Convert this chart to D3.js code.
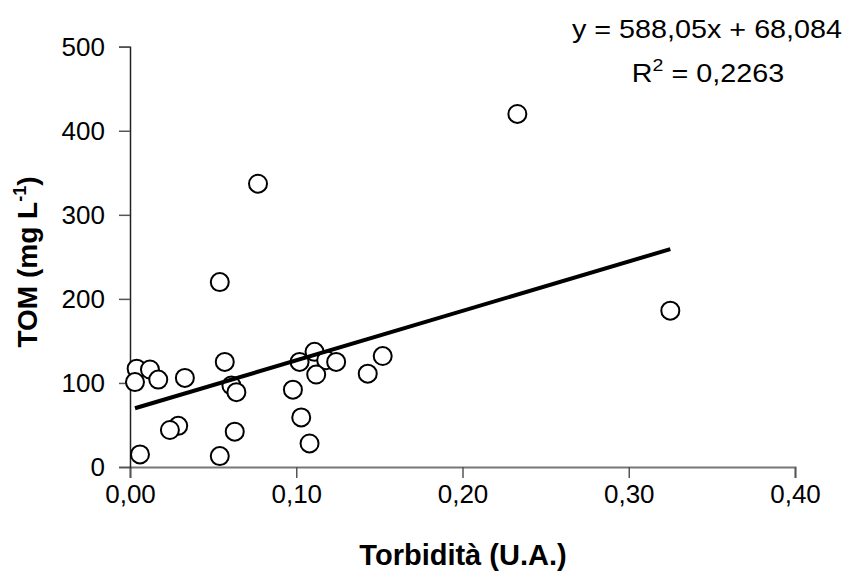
<!DOCTYPE html>
<html>
<head>
<meta charset="utf-8">
<script src="https://cdn.jsdelivr.net/npm/d3@7"></script>
<style>
  body { margin: 0; background: #fff; }
  svg text { font-family: "Liberation Sans", Arial, sans-serif; fill: #000; }
</style>
</head>
<body>
<svg width="846" height="573"></svg>
<script>
// torbidità (U.A.) vs TOM (mg/L)
const turbidity = [0.004, 0.012, 0.003, 0.017, 0.033, 0.054, 0.057, 0.061, 0.064,
    0.029, 0.024, 0.063, 0.006, 0.054, 0.098, 0.102, 0.111, 0.118, 0.124,
    0.112, 0.103, 0.108, 0.143, 0.152, 0.233, 0.325, 0.077]
const tom = [117, 116, 101, 104, 106, 220, 125, 97, 89,
    49, 44, 42, 15, 13, 92, 125, 137, 127, 125,
    110, 59, 28, 111, 132, 420, 186, 337]

const xTicks = [0, 0.1, 0.2, 0.3, 0.4]
const yTicks = [0, 100, 200, 300, 400, 500]
const slope = 588.05
const intercept = 68.084

const it = d3.formatLocale({decimal: ",", thousands: ".", grouping: [3], currency: ["", "€"]})

const svg = d3.select("svg")
const x = d3.scaleLinear().domain([0, 0.4]).range([130, 795])
const y = d3.scaleLinear().domain([0, 500]).range([467, 46.7])

const points = turbidity.map((t, i) => ({x: t, y: tom[i]}))

// axes
const xAxis = svg.append("g")
    .attr("transform", `translate(0, ${y(0)})`)
    .call(d3.axisBottom(x).tickValues(xTicks).tickFormat(it.format(".2f")).tickSizeOuter(0).tickSize(11).tickPadding(7))
xAxis.select(".domain").attr("stroke", "#777").attr("stroke-width", 2)
xAxis.selectAll(".tick line").attr("stroke", "#555").attr("stroke-width", 1.5)
xAxis.selectAll("text").style("font-size", "26px")

const yAxis = svg.append("g")
    .attr("transform", `translate(${x(0)}, 0)`)
    .call(d3.axisLeft(y).tickValues(yTicks).tickFormat(d3.format("d")).tickSizeOuter(0).tickSize(11).tickPadding(14))
yAxis.select(".domain").attr("stroke", "#222").attr("stroke-width", 1.5)
yAxis.selectAll(".tick line").attr("stroke", "#555").attr("stroke-width", 1.5)
yAxis.selectAll("text").style("font-size", "26px")

// points
svg.append("g")
    .selectAll("circle.pt")
    .data(points)
    .enter()
    .append("circle")
    .attr("class", "pt")
    .attr("cx", d => x(d.x))
    .attr("cy", d => y(d.y))
    .attr("r", 9)
    .style("fill", "#fff")
    .style("stroke", "#000")
    .style("stroke-width", 2)

// linear trend
const xExt = d3.extent(turbidity)
svg.append("path")
    .datum(xExt.map(v => [v, slope * v + intercept]))
    .attr("d", d3.line().x(d => x(d[0])).y(d => y(d[1])))
    .style("fill", "none")
    .style("stroke", "#000")
    .style("stroke-width", 4)

// equation (text is a bit stretched sideways in the original)
svg.append("text")
    .attr("transform", "translate(707, 37.5) scale(1.15, 1)")
    .attr("text-anchor", "middle")
    .style("font-size", "25px")
    .text("y = 588,05x + 68,084")

const r2 = svg.append("text")
    .attr("transform", "translate(708, 81.7) scale(1.15, 1)")
    .attr("text-anchor", "middle")
    .style("font-size", "25px")
r2.append("tspan").text("R")
r2.append("tspan").attr("dy", -11).style("font-size", "17px").text("2")
r2.append("tspan").attr("dy", 11).text(" = 0,2263")

// axis titles
svg.append("text")
    .attr("x", 463)
    .attr("y", 565)
    .attr("text-anchor", "middle")
    .style("font-size", "29px")
    .style("font-weight", "bold")
    .text("Torbidità (U.A.)")

const yt = svg.append("text")
    .attr("transform", "translate(37, 262) rotate(-90)")
    .attr("text-anchor", "middle")
    .style("font-size", "28px")
    .style("font-weight", "bold")
yt.append("tspan").text("TOM (mg L")
yt.append("tspan").attr("dy", -11).style("font-size", "18px").text("-1")
yt.append("tspan").attr("dy", 11).text(")")
</script>
</body>
</html>
